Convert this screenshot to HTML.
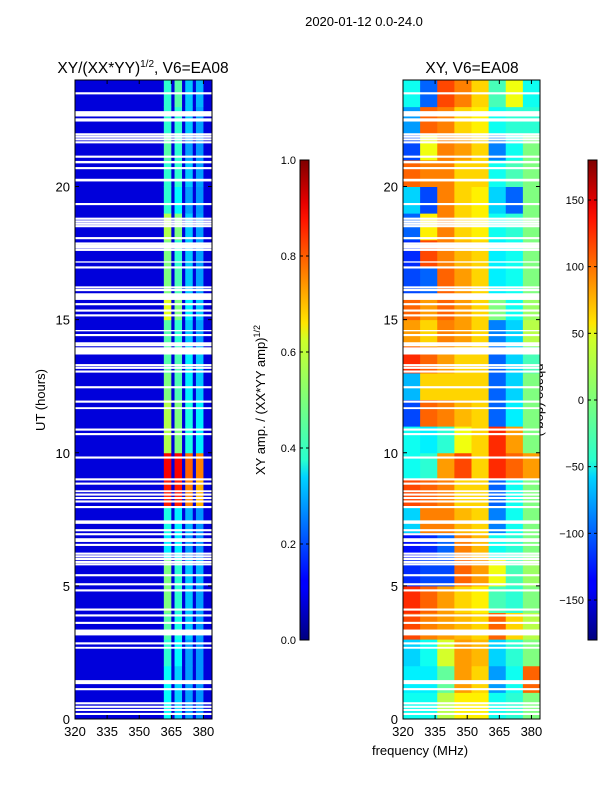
<!DOCTYPE html>
<html><head><meta charset="utf-8">
<style>
body{margin:0;background:#fff;}
svg{display:block;font-family:"Liberation Sans","DejaVu Sans",sans-serif;}
</style></head>
<body>
<svg id="fig" width="600" height="800" viewBox="0 0 600 800" xmlns="http://www.w3.org/2000/svg">
<defs>
<linearGradient id="jet" x1="0" y1="1" x2="0" y2="0">
<stop offset="0" stop-color="#00007f"/><stop offset="0.11" stop-color="#0000ff"/>
<stop offset="0.125" stop-color="#0000ff"/><stop offset="0.34" stop-color="#00d4ff"/>
<stop offset="0.375" stop-color="#29ffce"/><stop offset="0.5" stop-color="#7dff7a"/>
<stop offset="0.625" stop-color="#ceff29"/><stop offset="0.66" stop-color="#ffe500"/>
<stop offset="0.875" stop-color="#ff1400"/><stop offset="0.91" stop-color="#e80000"/>
<stop offset="1" stop-color="#7f0000"/>
</linearGradient>
</defs>
<text x="364" y="26" font-size="13" text-anchor="middle">2020-01-12 0.0-24.0</text>
<text x="143" y="73" font-size="15.5" text-anchor="middle">XY/(XX*YY)<tspan font-size="10" dy="-6">1/2</tspan><tspan dy="6">, V6=EA08</tspan></text>
<text x="472" y="73" font-size="15.5" text-anchor="middle">XY, V6=EA08</text>
<text transform="translate(45,400) rotate(-90)" font-size="13" text-anchor="middle">UT (hours)</text>
<text x="420" y="755" font-size="13" text-anchor="middle">frequency (MHz)</text>
<text transform="translate(265,400) rotate(-90)" font-size="13" text-anchor="middle">XY amp. / (XX*YY amp)<tspan font-size="9" dy="-5">1/2</tspan></text>
<text transform="translate(536,400) rotate(90)" font-size="13" text-anchor="middle">phase (deg.)</text>
<g id="g"></g>
</svg>
<script>
// ---- data ----
const hours = [0,1,2,3,4,5,6,7,8,9,10,11,12,13,14,15,16,17,18,19,20,21,22,23];
const ampBands = [[361.5,365],[366.5,370],[371.5,375],[376.5,380]];
const ampValues = [
[.38,.33,.28,.27],[.38,.33,.28,.27],[.42,.37,.28,.27],[.46,.4,.32,.28],[.5,.42,.32,.28],[.5,.42,.32,.3],
[.36,.36,.28,.27],[.4,.36,.3,.27],[.85,.85,.75,.7],[.88,.88,.78,.75],[.55,.5,.4,.36],[.55,.5,.4,.36],
[.5,.45,.36,.32],[.46,.45,.36,.32],[.46,.42,.32,.28],[.6,.5,.36,.32],[.5,.45,.32,.28],[.5,.42,.32,.28],
[.55,.5,.32,.28],[.42,.37,.28,.27],[.42,.42,.32,.28],[.46,.42,.28,.27],[.42,.42,.32,.28],[.42,.46,.32,.3]];
const ampBackground = 0.09;
const phaseBands = [320,328,336,344,352,360,368,376,384];
const phaseValues = [
[-40,-40,20,50,50,-40,-30,0],[-50,-50,-10,80,60,-80,-40,100],[-60,-40,30,80,70,-60,-30,0],
[110,90,80,70,60,100,60,20],[120,100,80,60,50,-20,-30,0],[-120,-110,-110,100,80,40,-20,10],
[-130,-120,-100,90,70,-40,-30,0],[-60,90,90,70,60,-90,-40,0],[110,100,90,60,60,-100,-40,0],
[-40,-30,80,110,60,120,100,80],[-40,-50,-30,40,60,120,80,0],[-110,100,90,70,60,-100,-50,0],
[-70,60,60,60,60,-100,-60,0],[120,100,80,60,60,-100,-60,-20],[80,60,90,80,60,-90,-60,20],
[100,80,100,80,60,0,-40,10],[-110,-100,100,80,60,-50,-40,0],[-120,110,90,70,60,-50,-40,0],
[-100,50,90,60,50,-40,-30,0],[-60,-110,90,60,50,-60,-100,0],[100,90,90,60,60,-40,-20,0],
[-110,40,90,80,60,-90,-40,0],[-80,100,90,60,50,-40,-30,-30],[-40,-100,110,90,60,-20,40,-40]];
const flagStart = [23.46,22.63,22.44,21.92,21.83,21.73,21.62,21.08,20.87,20.65,20.19,19.30,18.75,18.65,18.56,18.47,18.02,17.82,17.74,17.67,17.58,17.14,16.92,16.17,16.07,15.74,15.54,15.30,15.12,14.56,14.38,14.07,14.00,13.69,13.25,13.15,13.01,12.42,11.88,11.64,10.83,10.66,9.78,8.96,8.80,8.52,8.39,8.26,8.13,7.92,7.38,7.33,7.05,6.90,6.65,6.50,6.17,6.07,5.97,5.86,5.77,5.36,5.02,4.79,4.07,3.85,3.57,3.14,2.80,2.64,1.31,1.08,0.55,0.42,0.30,0.15];
const flagEnd   = [23.54,22.83,22.56,22.00,21.91,21.81,21.70,21.16,20.96,20.73,20.29,19.38,18.83,18.73,18.64,18.55,18.10,17.90,17.82,17.75,17.66,17.19,17.00,16.25,16.15,15.99,15.62,15.38,15.20,14.61,14.46,14.15,14.08,13.96,13.33,13.23,13.09,12.50,11.96,11.71,10.91,10.74,9.86,9.04,8.88,8.59,8.47,8.34,8.21,8.00,7.46,7.41,7.13,6.98,6.79,6.58,6.25,6.15,6.05,5.94,5.85,5.44,5.10,4.87,4.15,3.93,3.65,3.36,2.88,2.71,1.46,1.16,0.63,0.50,0.38,0.23];
const freqTicks = [320,335,350,365,380];
const hourTicks = [0,5,10,15,20];
const ampTicks = [0.0,0.2,0.4,0.6,0.8,1.0];
const phaseTicks = [-150,-100,-50,0,50,100,150];

// ---- scales ----
const NS='http://www.w3.org/2000/svg';
const g=document.getElementById('g');
const Y0=719, Y1=80;
const yH=h=>Y0-(h/24)*(Y0-Y1);
const xF=(x0,f)=>x0+(f-320)*(137/64);
function jet(v){v=Math.max(0,Math.min(1,v));
 const c=t=>Math.round(255*Math.max(0,Math.min(1,t)));
 const r=c(1.5-Math.abs(4*v-3)), gg=c(1.5-Math.abs(4*v-2)), b=c(1.5-Math.abs(4*v-1));
 return `rgb(${r},${gg},${b})`;}
function el(tag,attrs,parent){const e=document.createElementNS(NS,tag);for(const k in attrs)e.setAttribute(k,attrs[k]);(parent||g).appendChild(e);return e;}

function panel(x0,name,cellFn){
 const pg=el('g',{});
 
 
 cellFn(pg);
 flagStart.forEach((s,i)=>{
  const r=el('rect',{x:x0,y:yH(flagEnd[i]),width:137,height:yH(s)-yH(flagEnd[i]),fill:'#fff'},pg);
  
  
 });
 const fr=el('rect',{x:x0,y:Y1,width:137,height:Y0-Y1,fill:'none',stroke:'#000','stroke-width':1});
 
 
 freqTicks.forEach(f=>{const x=xF(x0,f);
  el('line',{x1:x,x2:x,y1:Y0,y2:Y0-4,stroke:'#000'});el('line',{x1:x,x2:x,y1:Y1,y2:Y1+4,stroke:'#000'});
  const t=el('text',{x:x,y:736,'font-size':13,'text-anchor':'middle'});t.textContent=f;
  
  });
 hourTicks.forEach(h=>{const y=yH(h);
  el('line',{x1:x0,x2:x0+4,y1:y,y2:y,stroke:'#000'});el('line',{x1:x0+137,x2:x0+133,y1:y,y2:y,stroke:'#000'});
  const t=el('text',{x:x0-5,y:y+5,'font-size':13,'text-anchor':'end'});t.textContent=h;
  
  });
}
const LX=75, RX=403;
panel(LX,'amplitude',pg=>{
 const bg=el('rect',{x:LX,y:Y1,width:137,height:Y0-Y1,fill:jet(ampBackground)},pg);
 hours.forEach((h,i)=>{
  ampBands.forEach((b,j)=>{
   const c=el('rect',{x:xF(LX,b[0]),y:yH(h+1),width:xF(LX,b[1])-xF(LX,b[0]),height:yH(h)-yH(h+1)+0.5,fill:jet(ampValues[i][j])},pg);
   
   
  });
 });
});
panel(RX,'phase',pg=>{
 hours.forEach((h,i)=>{
  for(let j=0;j<phaseBands.length-1;j++){
   const c=el('rect',{x:xF(RX,phaseBands[j]),y:yH(h+1),width:xF(RX,phaseBands[j+1])-xF(RX,phaseBands[j])+0.5,height:yH(h)-yH(h+1)+0.5,fill:jet((phaseValues[i][j]+180)/360)},pg);
   
   
  }
 });
});
function cbar(x,name,ticks,lo,hi,fmt){
 const r=el('rect',{x:x,y:160,width:9,height:480,fill:'url(#jet)',stroke:'#000','stroke-width':1});
 
 
 ticks.forEach(v=>{const y=640-(v-lo)/(hi-lo)*480;
  el('line',{x1:x,x2:x+3,y1:y,y2:y,stroke:'#000'});el('line',{x1:x+9,x2:x+6,y1:y,y2:y,stroke:'#000'});
  const t=el('text',{x:x-4,y:y+4,'font-size':11,'text-anchor':'end'});t.textContent=fmt(v);
  
  });
}
cbar(300,'amp-colorbar',ampTicks,0,1,v=>v.toFixed(1));
cbar(588,'phase-colorbar',phaseTicks,-180,180,v=>v<0?'\u2212'+(-v):''+v);
</script>
</body></html>
